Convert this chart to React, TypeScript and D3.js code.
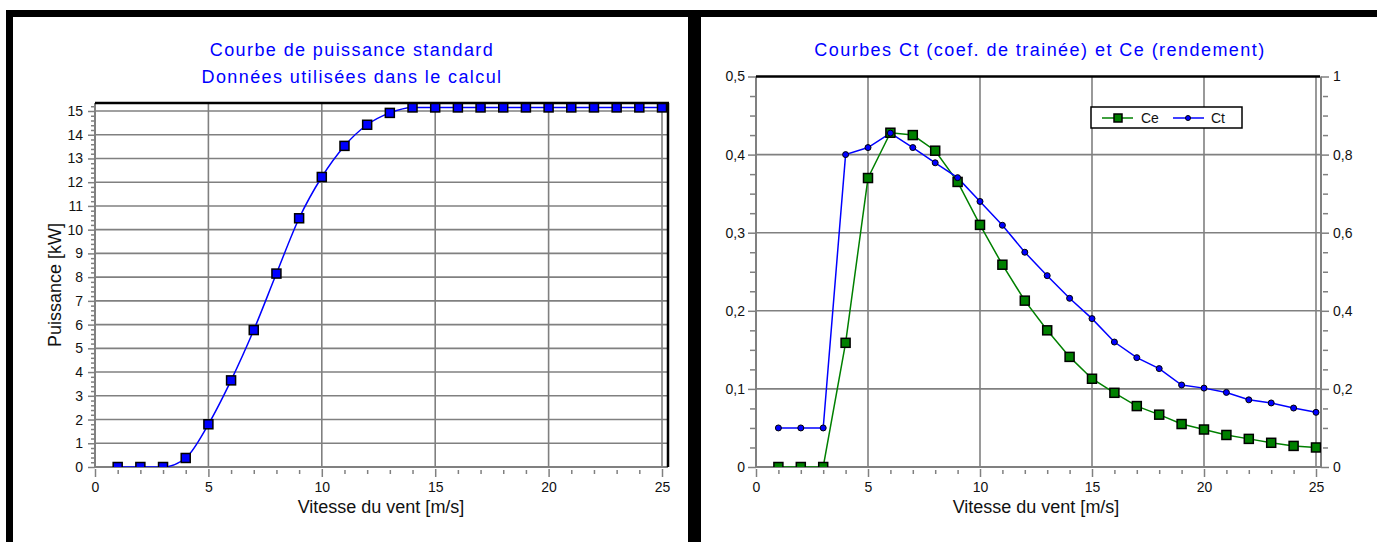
import * as d3 from 'd3';
import React, { useRef, useEffect } from 'react';

// wind speed (m/s) for every measured point
const windSpeed = [1, 2, 3, 4, 5, 6, 7, 8, 9, 10, 11, 12, 13, 14, 15, 16, 17, 18, 19, 20, 21, 22, 23, 24, 25];
// standard power curve, kW
const power = [0, 0, 0, 0.38, 1.8, 3.65, 5.77, 8.15, 10.48, 12.22, 13.53, 14.42, 14.92, 15.15, 15.15, 15.15, 15.15, 15.15, 15.15, 15.15, 15.15, 15.15, 15.15, 15.15, 15.15];
// Ce (rendement), left axis
const ce = [0, 0, 0, 0.159, 0.37, 0.428, 0.425, 0.405, 0.365, 0.31, 0.259, 0.213, 0.175, 0.141, 0.113, 0.095, 0.078, 0.067, 0.055, 0.048, 0.041, 0.036, 0.031, 0.027, 0.025];
// Ct (coef. de trainee), right axis
const ct = [0.1, 0.1, 0.1, 0.8, 0.818, 0.855, 0.818, 0.779, 0.741, 0.68, 0.619, 0.55, 0.49, 0.432, 0.38, 0.32, 0.28, 0.252, 0.21, 0.202, 0.191, 0.172, 0.164, 0.151, 0.14];

const xTicks = [0, 5, 10, 15, 20, 25];
const powerTicks = [0, 1, 2, 3, 4, 5, 6, 7, 8, 9, 10, 11, 12, 13, 14, 15];
const ceTicks = [0, 0.1, 0.2, 0.3, 0.4, 0.5];
const ctTicks = [0, 0.2, 0.4, 0.6, 0.8, 1];

const FONT = '"Liberation Sans", Arial, sans-serif';
const GRID = '#808080';
const BLUE = '#0000ff';
const GREEN = '#008000';

const frLocale = d3.formatLocale({ decimal: ',', thousands: ' ', grouping: [3], currency: ['', ' €'] });
const fmt = frLocale.format('~g');

function styleAxis(g, size) {
  g.select('.domain').remove();
  g.selectAll('line').attr('stroke', GRID).attr('stroke-width', 1.5);
  g.selectAll('text').attr('fill', '#111').attr('font-size', size).attr('font-family', FONT);
}

function minorValues(lo, hi, step, majors) {
  const out = [];
  const n = Math.round((hi - lo) / step);
  for (let i = 0; i <= n; i++) {
    const v = +(lo + i * step).toFixed(4);
    if (!majors.some(m => Math.abs(m - v) < 1e-6)) out.push(v);
  }
  return out;
}

function drawPower(svg) {
  const left = 95, right = 668, top = 103, bottom = 467;
  const x = d3.scaleLinear().domain([0, 25]).range([95, 662]);
  const y = d3.scaleLinear().domain([0, 15]).range([467, 111]);
  const g = svg.append('g');

  g.append('clipPath').attr('id', 'clipP')
    .append('rect').attr('x', left).attr('y', top).attr('width', right - left).attr('height', bottom - top);

  // grid
  g.selectAll('.hg').data(powerTicks.slice(1)).enter().append('line')
    .attr('x1', left).attr('x2', right).attr('y1', d => y(d)).attr('y2', d => y(d))
    .attr('stroke', GRID).attr('stroke-width', 1.6);
  g.selectAll('.vg').data(xTicks.slice(1)).enter().append('line')
    .attr('x1', d => x(d)).attr('x2', d => x(d)).attr('y1', top).attr('y2', bottom)
    .attr('stroke', GRID).attr('stroke-width', 1.6);

  // axes
  g.append('g').attr('transform', `translate(${left},0)`)
    .call(d3.axisLeft(y).tickValues(powerTicks).tickSize(7).tickPadding(5).tickFormat(d3.format('d')))
    .call(a => styleAxis(a, 14));
  g.append('g').attr('transform', `translate(${left},0)`)
    .call(d3.axisLeft(y).tickValues(minorValues(0, 15.2, 0.2, powerTicks)).tickSize(4).tickFormat(() => ''))
    .call(a => styleAxis(a, 14));
  g.append('g').attr('transform', `translate(0,${bottom + 2})`)
    .call(d3.axisBottom(x).tickValues(xTicks).tickSize(8).tickPadding(5).tickFormat(d3.format('d')))
    .call(a => styleAxis(a, 14));
  g.append('g').attr('transform', `translate(0,${bottom + 3})`)
    .call(d3.axisBottom(x).tickValues(minorValues(0, 25, 1, xTicks)).tickSize(4).tickFormat(() => ''))
    .call(a => styleAxis(a, 14));

  g.append('line').attr('x1', left).attr('x2', left).attr('y1', top).attr('y2', bottom).attr('stroke', GRID).attr('stroke-width', 2);
  g.append('line').attr('x1', left).attr('x2', right).attr('y1', bottom).attr('y2', bottom).attr('stroke', GRID).attr('stroke-width', 2);

  // curve
  const pts = windSpeed.map((v, i) => [v, power[i]]);
  g.append('path').datum(pts)
    .attr('clip-path', 'url(#clipP)')
    .attr('fill', 'none').attr('stroke', BLUE).attr('stroke-width', 1.5)
    .attr('d', d3.line().x(d => x(d[0])).y(d => y(d[1])).curve(d3.curveMonotoneX));
  g.append('g').attr('clip-path', 'url(#clipP)')
    .selectAll('rect').data(pts).enter().append('rect')
    .attr('x', d => x(d[0]) - 4.5).attr('y', d => y(d[1]) - 4.5)
    .attr('width', 9).attr('height', 9)
    .attr('fill', BLUE).attr('stroke', '#000').attr('stroke-width', 1.5);

  // frame top / right
  g.append('line').attr('x1', left).attr('x2', right + 1).attr('y1', top).attr('y2', top).attr('stroke', '#000').attr('stroke-width', 2.5);
  g.append('line').attr('x1', right).attr('x2', right).attr('y1', top).attr('y2', bottom).attr('stroke', '#000').attr('stroke-width', 2.5);

  // texts
  const title = g.append('text').attr('x', 352).attr('text-anchor', 'middle')
    .attr('font-family', FONT).attr('font-size', 18).attr('letter-spacing', 1.4).attr('fill', BLUE);
  title.append('tspan').attr('x', 352).attr('y', 56).text('Courbe de puissance standard');
  title.append('tspan').attr('x', 352).attr('y', 83).text('Données utilisées dans le calcul');

  g.append('text').attr('x', 381).attr('y', 513).attr('text-anchor', 'middle')
    .attr('font-family', FONT).attr('font-size', 18).attr('fill', '#111')
    .text('Vitesse du vent [m/s]');
  g.append('text').attr('transform', 'translate(61,285) rotate(-90)').attr('text-anchor', 'middle')
    .attr('font-family', FONT).attr('font-size', 18).attr('fill', '#111')
    .text('Puissance [kW]');
}

function drawCoef(svg) {
  const left = 756, right = 1321, top = 76.5, bottom = 467;
  const x = d3.scaleLinear().domain([0, 25]).range([756, 1316]);
  const y = d3.scaleLinear().domain([0, 0.5]).range([bottom, top]);
  const y2 = d3.scaleLinear().domain([0, 1]).range([bottom, top]);
  const g = svg.append('g');

  g.append('clipPath').attr('id', 'clipC')
    .append('rect').attr('x', left).attr('y', top).attr('width', right - left).attr('height', bottom - top);

  g.selectAll('.hg').data(ceTicks.slice(1, -1)).enter().append('line')
    .attr('x1', left).attr('x2', right).attr('y1', d => y(d)).attr('y2', d => y(d))
    .attr('stroke', GRID).attr('stroke-width', 1.6);
  g.selectAll('.vg').data(xTicks.slice(1)).enter().append('line')
    .attr('x1', d => x(d)).attr('x2', d => x(d)).attr('y1', top).attr('y2', bottom)
    .attr('stroke', GRID).attr('stroke-width', 1.6);

  g.append('g').attr('transform', `translate(${left},0)`)
    .call(d3.axisLeft(y).tickValues(ceTicks).tickSize(8).tickPadding(3).tickFormat(fmt))
    .call(a => styleAxis(a, 14));
  g.append('g').attr('transform', `translate(${left - 1},0)`)
    .call(d3.axisLeft(y).tickValues(minorValues(0, 0.5, 0.025, ceTicks)).tickSize(5).tickFormat(() => ''))
    .call(a => styleAxis(a, 14));
  g.append('g').attr('transform', `translate(${right},0)`)
    .call(d3.axisRight(y2).tickValues(ctTicks).tickSize(8).tickPadding(4).tickFormat(fmt))
    .call(a => styleAxis(a, 14));
  g.append('g').attr('transform', `translate(${right + 2},0)`)
    .call(d3.axisRight(y2).tickValues(minorValues(0, 1, 0.05, ctTicks)).tickSize(5).tickFormat(() => ''))
    .call(a => styleAxis(a, 14));
  g.append('g').attr('transform', `translate(0,${bottom + 2})`)
    .call(d3.axisBottom(x).tickValues(xTicks).tickSize(8).tickPadding(5).tickFormat(d3.format('d')))
    .call(a => styleAxis(a, 14));
  g.append('g').attr('transform', `translate(0,${bottom + 3})`)
    .call(d3.axisBottom(x).tickValues(minorValues(0, 25, 1, xTicks)).tickSize(4).tickFormat(() => ''))
    .call(a => styleAxis(a, 14));

  g.append('line').attr('x1', left).attr('x2', left).attr('y1', top).attr('y2', bottom).attr('stroke', GRID).attr('stroke-width', 2);
  g.append('line').attr('x1', right).attr('x2', right).attr('y1', top).attr('y2', bottom).attr('stroke', GRID).attr('stroke-width', 2);
  g.append('line').attr('x1', left).attr('x2', right).attr('y1', bottom).attr('y2', bottom).attr('stroke', GRID).attr('stroke-width', 2);

  const cePts = windSpeed.map((v, i) => [v, ce[i]]);
  const ctPts = windSpeed.map((v, i) => [v, ct[i]]);

  g.append('path').datum(cePts).attr('clip-path', 'url(#clipC)')
    .attr('fill', 'none').attr('stroke', GREEN).attr('stroke-width', 1.5)
    .attr('d', d3.line().x(d => x(d[0])).y(d => y(d[1])));
  g.append('path').datum(ctPts).attr('clip-path', 'url(#clipC)')
    .attr('fill', 'none').attr('stroke', BLUE).attr('stroke-width', 1.5)
    .attr('d', d3.line().x(d => x(d[0])).y(d => y2(d[1])));

  g.append('g').attr('clip-path', 'url(#clipC)')
    .selectAll('rect').data(cePts).enter().append('rect')
    .attr('x', d => x(d[0]) - 4.5).attr('y', d => y(d[1]) - 4.5)
    .attr('width', 9).attr('height', 9)
    .attr('fill', GREEN).attr('stroke', '#000').attr('stroke-width', 1.5);
  g.append('g').attr('clip-path', 'url(#clipC)')
    .selectAll('circle').data(ctPts).enter().append('circle')
    .attr('cx', d => x(d[0])).attr('cy', d => y2(d[1])).attr('r', 3)
    .attr('fill', BLUE).attr('stroke', '#000').attr('stroke-width', 1);

  g.append('line').attr('x1', left).attr('x2', right - 1).attr('y1', top).attr('y2', top).attr('stroke', '#000').attr('stroke-width', 2.5);

  // legend
  const lg = g.append('g').attr('transform', 'translate(1091,107)');
  lg.append('rect').attr('width', 151).attr('height', 21).attr('fill', '#fff').attr('stroke', '#000').attr('stroke-width', 1.5);
  lg.append('line').attr('x1', 11).attr('x2', 42).attr('y1', 11).attr('y2', 11).attr('stroke', GREEN).attr('stroke-width', 1.5);
  lg.append('rect').attr('x', 23).attr('y', 7).attr('width', 8).attr('height', 8).attr('fill', GREEN).attr('stroke', '#000').attr('stroke-width', 1.5);
  lg.append('text').attr('x', 50).attr('y', 16).attr('font-family', FONT).attr('font-size', 14).attr('fill', '#111').text('Ce');
  lg.append('line').attr('x1', 82).attr('x2', 113).attr('y1', 11).attr('y2', 11).attr('stroke', BLUE).attr('stroke-width', 1.5);
  lg.append('circle').attr('cx', 97).attr('cy', 11).attr('r', 2.5).attr('fill', BLUE).attr('stroke', '#000').attr('stroke-width', 1);
  lg.append('text').attr('x', 120).attr('y', 16).attr('font-family', FONT).attr('font-size', 14).attr('fill', '#111').text('Ct');

  g.append('text').attr('x', 1040).attr('y', 56).attr('text-anchor', 'middle')
    .attr('font-family', FONT).attr('font-size', 18).attr('letter-spacing', 1.45).attr('fill', BLUE)
    .text('Courbes Ct (coef. de trainée) et Ce (rendement)');
  g.append('text').attr('x', 1036).attr('y', 513).attr('text-anchor', 'middle')
    .attr('font-family', FONT).attr('font-size', 18).attr('fill', '#111')
    .text('Vitesse du vent [m/s]');
}

function App() {
  const ref = useRef(null);

  useEffect(() => {
    const svg = d3.select(ref.current);
    svg.selectAll('*').remove();

    // outer frame: top bar, left edge and the panel separator
    svg.append('rect').attr('x', 6).attr('y', 10).attr('width', 1371).attr('height', 7).attr('fill', '#000');
    svg.append('rect').attr('x', 6).attr('y', 10).attr('width', 7).attr('height', 532).attr('fill', '#000');
    svg.append('rect').attr('x', 688).attr('y', 10).attr('width', 13).attr('height', 532).attr('fill', '#000');

    drawPower(svg);
    drawCoef(svg);
  }, []);

  return (
    <svg
      ref={ref}
      width={1377}
      height={542}
      style={{ position: 'absolute', left: 0, top: 0, background: '#fff', display: 'block' }}
    />
  );
}

export default App;
